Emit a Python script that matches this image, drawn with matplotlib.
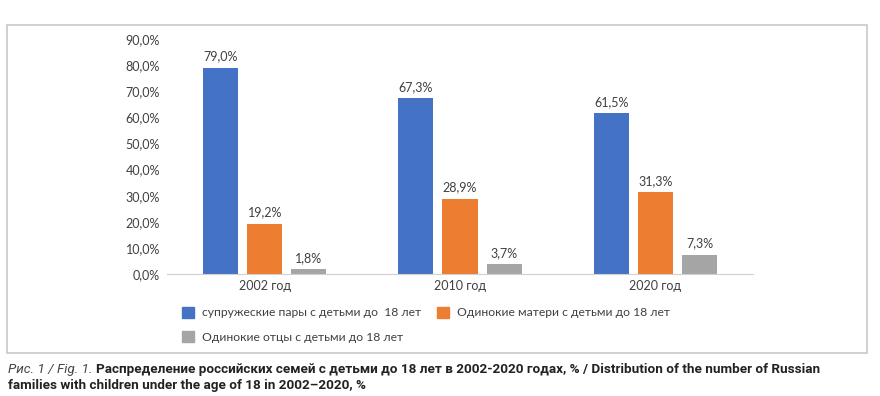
import matplotlib.pyplot as plt
from matplotlib.patches import Rectangle, Patch

years = ["2002 год", "2010 год", "2020 год"]
couples = [79.0, 67.3, 61.5]
mothers = [19.2, 28.9, 31.3]
fathers = [1.8, 3.7, 7.3]
series_names = ["супружеские пары с детьми до  18 лет",
                "Одинокие матери с детьми до 18 лет",
                "Одинокие отцы с детьми до 18 лет"]
colors = ["#4472C4", "#ED7D31", "#A5A5A5"]

plt.rcParams['font.family'] = ['Lato', 'DejaVu Sans']

fig = plt.figure(figsize=(8.8, 3.96), dpi=100)
# light frame around the chart area
fig.patches.append(Rectangle((7/880, 1-353/396), 860/880, 328/396,
                             transform=fig.transFigure, fill=False,
                             edgecolor="#c8c8c8", linewidth=1.2))

ax = fig.add_axes([167/880, 1-274/396, 586/880, 235/396])
width = 0.18
step = 0.226
x = range(len(years))
for k, vals in enumerate([couples, mothers, fathers]):
    pos = [i + (k-1)*step for i in x]
    bars = ax.bar(pos, vals, width, color=colors[k])
    for b, v in zip(bars, vals):
        ax.annotate(f"{v:.1f}%".replace(".", ","), (b.get_x()+b.get_width()/2, v),
                    xytext=(0, 4), textcoords="offset points",
                    ha="center", va="bottom", fontsize=9, color="#404040")

ax.set_xlim(-0.5, 2.5)
ax.set_ylim(0, 90)
ax.set_yticks(range(0, 91, 10))
ax.set_yticklabels([f"{t},0%" for t in range(0, 91, 10)])
ax.set_xticks(list(x))
ax.set_xticklabels(years)
ax.tick_params(length=0, labelsize=9, colors="#404040", pad=4)
ax.tick_params(axis="y", pad=5)
for s in ["top", "right", "left"]:
    ax.spines[s].set_visible(False)
ax.spines["bottom"].set_color("#d0d0d0")

handles = [Patch(color=colors[0], label=series_names[0]),
           Patch(color=colors[2], label=series_names[2]),
           Patch(color=colors[1], label=series_names[1])]
fig.legend(handles=handles, ncol=2, loc="upper left",
           bbox_to_anchor=(171/880, 1-296/396), frameon=False,
           fontsize=8.7, handlelength=1.0, handleheight=1.0,
           columnspacing=1.3, labelspacing=1.05, handletextpad=0.65,
           labelcolor="#404040")

cap_family = ['Roboto', 'DejaVu Sans']
t1 = fig.text(8/880, 1-369/396, "Рис. 1 / Fig. 1. ", fontsize=9.7, style="italic",
              color="#444444", va="center", family=cap_family)
fig.canvas.draw()
bb = t1.get_window_extent()
fig.text(bb.x1/880, 1-369/396,
         "Распределение российских семей с детьми до 18 лет в 2002-2020 годах, % / "
         "Distribution of the number of Russian",
         fontsize=9.7, weight="bold", color="#222222", va="center", family=cap_family)
fig.text(8/880, 1-385/396, "families with children under the age of 18 in 2002–2020, %",
         fontsize=9.7, weight="bold", color="#222222", va="center", family=cap_family)

fig.savefig("out.png", dpi=100)
